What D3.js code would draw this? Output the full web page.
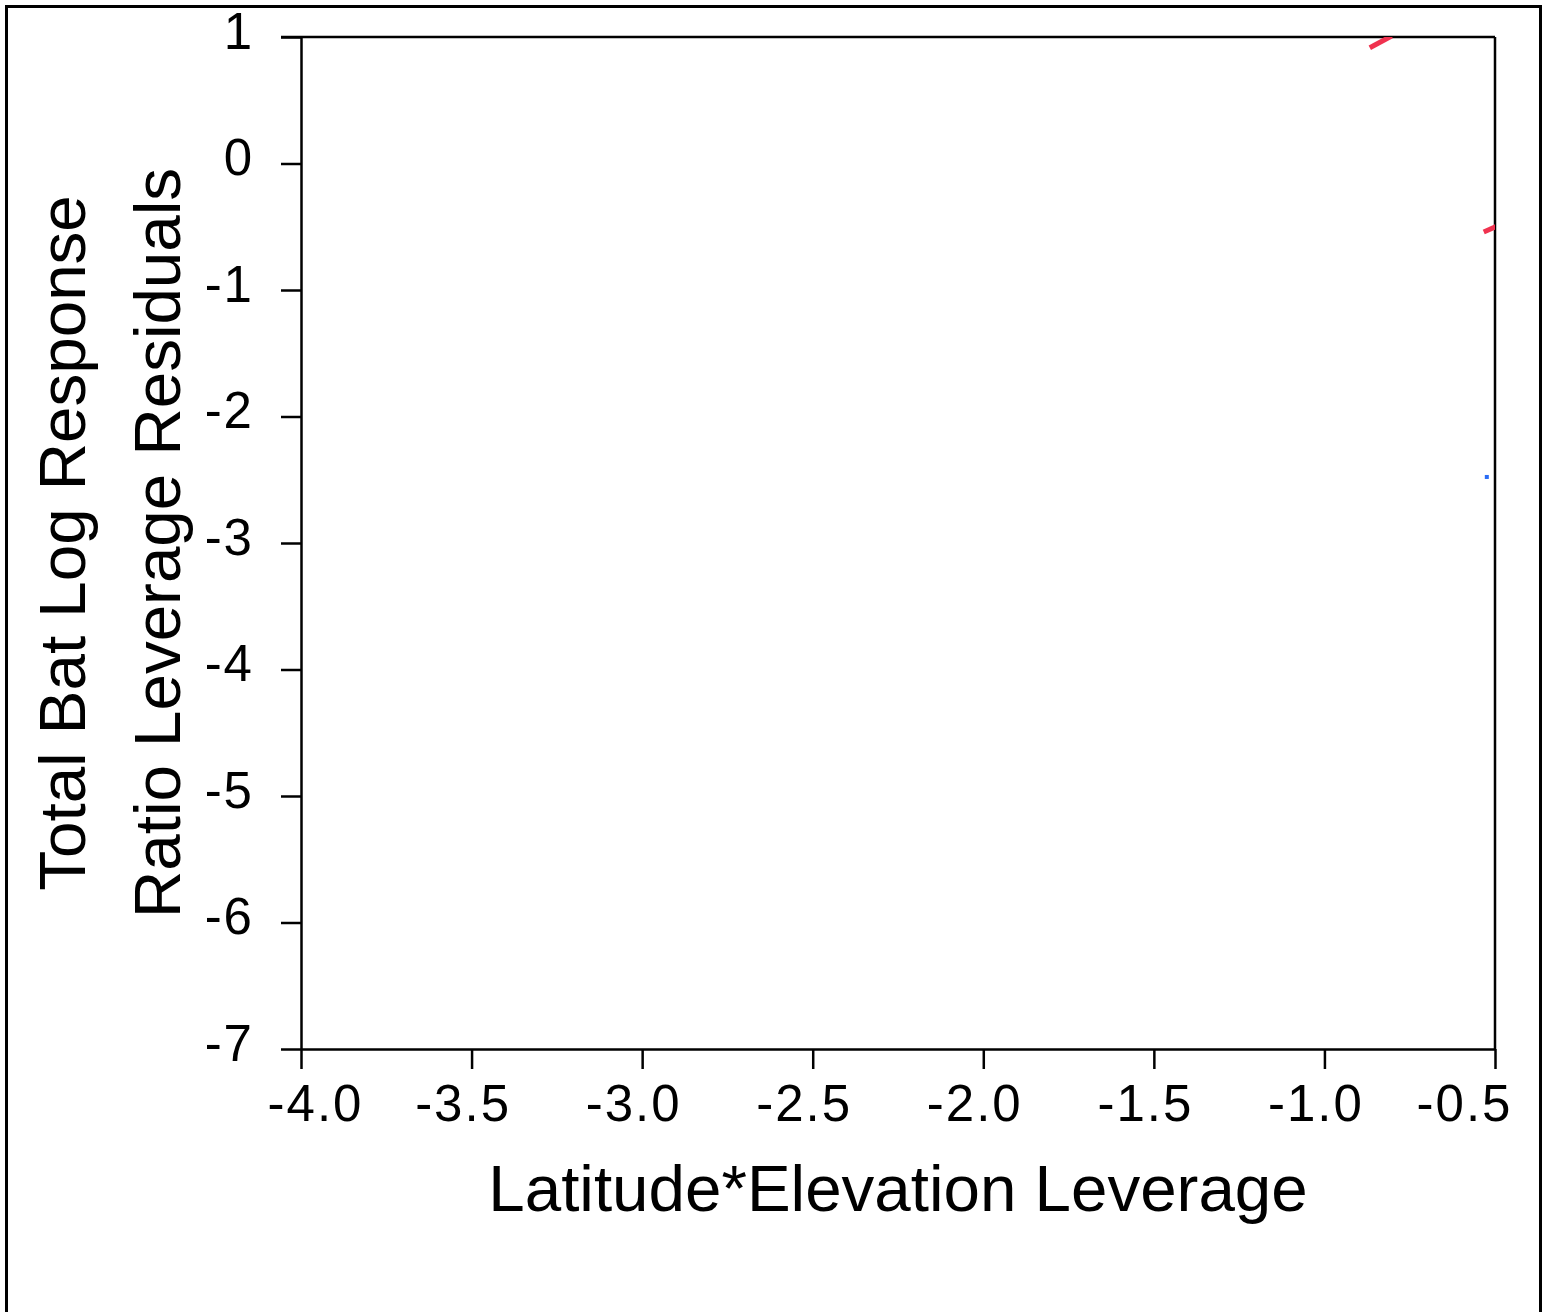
<!DOCTYPE html>
<html lang="en">
  <head>
    <meta charset="utf-8">
    <title>Leverage plot</title>
    <script type="text/javascript" src="https://cdn.jsdelivr.net/npm/d3@7"></script>
    <style>
      body { margin: 0; background: #fff; }
      text { font-family: "Liberation Sans", Arial, sans-serif; fill: #000; }
    </style>
  </head>
  <body>
    <script type="text/javascript">
    // axis ticks
    var xTicks = [-4.0, -3.5, -3.0, -2.5, -2.0, -1.5, -1.0, -0.5];
    var yTicks = [1, 0, -1, -2, -3, -4, -5, -6, -7];

    // red fit segments (mostly outside the visible window, clipped)
    var redSegments = [
      [[-0.867, 0.915], [-0.803, 1.008]],
      [[-0.533, -0.542], [-0.486, -0.486]]
    ];
    // blue points
    var bluePoints = [[-0.524, -2.478]];

    var w = 1547;
    var h = 1312;

    var svg = d3.select("body")
                .append("svg")
                .attr("width", w)
                .attr("height", h);

    // outer frame (bottom edge runs off the page)
    svg.append("rect")
       .attr("x", 6.5)
       .attr("y", 6.5)
       .attr("width", 1534)
       .attr("height", 1340)
       .attr("fill", "none")
       .attr("stroke", "#000")
       .attr("stroke-width", 3);

    var xScale = d3.scaleLinear()
                   .domain([-4.0, -0.5])
                   .range([301, 1495]);
    var yScale = d3.scaleLinear()
                   .domain([-7, 1])
                   .range([1049, 37]);

    // clip for data marks
    svg.append("clipPath")
       .attr("id", "plotclip")
       .append("rect")
       .attr("x", xScale(-4.0))
       .attr("y", yScale(1))
       .attr("width", xScale(-0.5) - xScale(-4.0))
       .attr("height", yScale(-7) - yScale(1));

    // plain hyphen instead of the unicode minus d3 uses
    var fmtX = function(d) { return d.toFixed(1); };
    var fmtY = function(d) { return String(d); };

    var xAxis = svg.append("g")
       .attr("transform", "translate(0," + yScale(-7) + ")")
       .call(d3.axisBottom(xScale)
               .tickValues(xTicks)
               .tickFormat(fmtX)
               .tickSize(20)
               .tickSizeOuter(0)
               .tickPadding(16));

    var yAxis = svg.append("g")
       .attr("transform", "translate(" + xScale(-4.0) + ",0)")
       .call(d3.axisLeft(yScale)
               .tickValues(yTicks)
               .tickFormat(fmtY)
               .tickSize(20)
               .tickSizeOuter(0)
               .tickPadding(27));

    [xAxis, yAxis].forEach(function(a) {
      a.select(".domain").attr("stroke-width", 2.5);
      a.selectAll(".tick line").attr("stroke-width", 2.5);
      a.selectAll("text")
       .attr("font-size", 51)
       .attr("letter-spacing", 2)
       .attr("font-family", "'Liberation Sans', Arial, sans-serif")
       .attr("fill", "#000");
    });
    yAxis.selectAll("text").attr("dy", "0.22em");

    // x labels are centred on the digits; the end labels are pulled inwards
    var lastX = xTicks.length - 1;
    xAxis.selectAll(".tick text")
         .attr("dx", function(d, i) {
           if (i === 0) return 14;
           if (i === lastX) return -31;
           return -9;
         });

    // top and right frame of the plot
    svg.append("line")
       .attr("x1", xScale(-4.0) - 20)
       .attr("x2", xScale(-0.5))
       .attr("y1", yScale(1))
       .attr("y2", yScale(1))
       .attr("stroke", "#000")
       .attr("stroke-width", 2.5);
    svg.append("line")
       .attr("x1", xScale(-0.5))
       .attr("x2", xScale(-0.5))
       .attr("y1", yScale(1))
       .attr("y2", yScale(-7))
       .attr("stroke", "#000")
       .attr("stroke-width", 2.5);

    var marks = svg.append("g").attr("clip-path", "url(#plotclip)");

    marks.selectAll("line.red")
         .data(redSegments)
         .enter()
         .append("line")
         .attr("class", "red")
         .attr("x1", function(d) { return xScale(d[0][0]); })
         .attr("y1", function(d) { return yScale(d[0][1]); })
         .attr("x2", function(d) { return xScale(d[1][0]); })
         .attr("y2", function(d) { return yScale(d[1][1]); })
         .attr("stroke", "#f0324f")
         .attr("stroke-width", 5);

    marks.selectAll("rect.blue")
         .data(bluePoints)
         .enter()
         .append("rect")
         .attr("class", "blue")
         .attr("x", function(d) { return xScale(d[0]) - 2; })
         .attr("y", function(d) { return yScale(d[1]) - 2; })
         .attr("width", 4)
         .attr("height", 4)
         .attr("fill", "#2a6cf5");

    // axis titles
    svg.append("text")
       .attr("x", (xScale(-4.0) + xScale(-0.5)) / 2)
       .attr("y", 1211)
       .attr("text-anchor", "middle")
       .attr("font-size", 65.5)
       .text("Latitude*Elevation Leverage");

    var midY = (yScale(1) + yScale(-7)) / 2;
    svg.append("text")
       .attr("transform", "translate(85," + midY + ") rotate(-90)")
       .attr("text-anchor", "middle")
       .attr("font-size", 65.5)
       .text("Total Bat Log Response");
    svg.append("text")
       .attr("transform", "translate(180," + midY + ") rotate(-90)")
       .attr("text-anchor", "middle")
       .attr("font-size", 65.5)
       .text("Ratio Leverage Residuals");
    </script>
  </body>
</html>
